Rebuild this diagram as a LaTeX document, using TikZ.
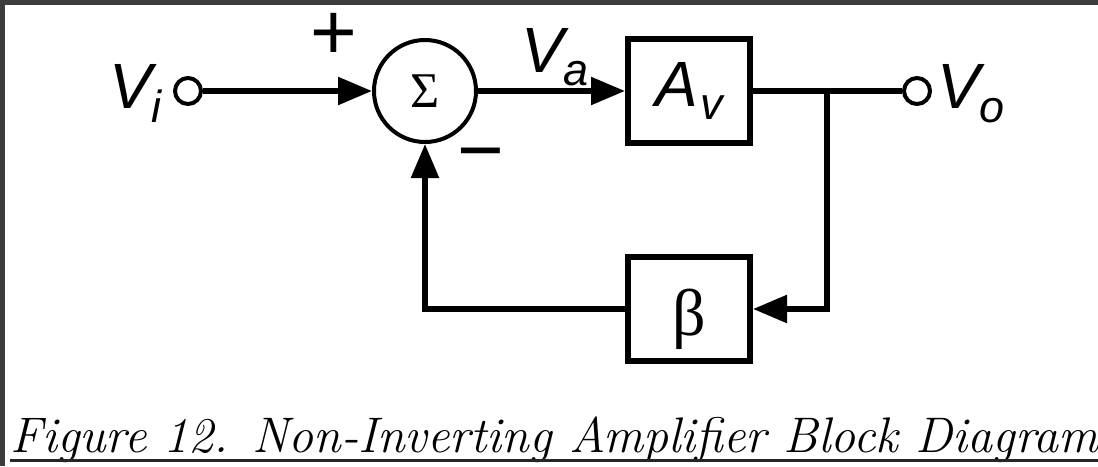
\documentclass[tikz,border=0pt]{standalone}
\usepackage{fontspec}
\newfontfamily\sansf{Liberation Sans}
\newfontfamily\seriff{Liberation Serif}
\usetikzlibrary{arrows.meta}
\definecolor{framegray}{HTML}{3C3C3C}
\begin{document}
\begin{tikzpicture}[x=1pt,y=-1pt,
  wire/.style={line width=5.5pt},
  arr/.style={wire,-{Triangle[length=34pt,width=27pt]}},
  block/.style={draw,line width=6pt,minimum width=122pt,minimum height=104pt,inner sep=0pt},
  sumnode/.style={draw,circle,line width=4pt,minimum size=102pt,inner sep=0pt,font=\seriff\fontsize{50}{50}\selectfont},
  term/.style={draw,circle,line width=4pt,minimum size=26pt,inner sep=0pt,fill=white},
  lbl/.style={inner sep=0pt,anchor=base west,font=\sansf\itshape\fontsize{64}{64}\selectfont},
  sign/.style={inner sep=0pt,font=\sansf\fontsize{80}{80}\selectfont},
  greek/.style={inner sep=0pt,anchor=base,font=\seriff\fontsize{66}{66}\selectfont},
]
% frame and background
\fill[framegray] (0,0) rectangle (1098,466);
\fill[white] (5,4.5) rectangle (1098,466);
\useasboundingbox (0,0) rectangle (1098,466);

% nodes
\node[term] (vi) at (188,91) {};
\node[sumnode] (sum) at (425,91) {Σ};
\node[block,font=\sansf\itshape\fontsize{64}{64}\selectfont] (av) at (689,91) {A\kern2pt\raisebox{-13pt}{\fontsize{45}{45}\selectfont v}};
\node[term] (vo) at (917,91) {};
\node[block] (beta) at (689,309) {};
\node[greek] (betalbl) at (689,335) {β};
\coordinate (j) at (827,91);

% labels
\node[lbl] (vilbl) at (109,108) {V\raisebox{-14pt}{\fontsize{45}{45}\selectfont i}};
\node[lbl] (valbl) at (521,72) {V\raisebox{-13pt}{\fontsize{45}{45}\selectfont a}};
\node[lbl] (volbl) at (937,108) {V\raisebox{-14pt}{\fontsize{45}{45}\selectfont o}};
\node[sign] (plus) at (334,36) {+};
\node[sign] (minus) at (481,163) {−};

% connectors
\draw[arr] (vi) -- (sum);
\draw[arr] (sum) -- (av);
\draw[wire] (av) -- (vo);
\draw[arr] (j) |- (beta);
\draw[arr] (beta) -| (sum);

% caption
\node[anchor=base west,inner sep=0pt,font=\fontsize{50}{60}\selectfont\itshape] (cap) at (10,452)
  {Figure 12. Non-Inverting Amplifier Block Diagram};
\draw[line width=2.5pt,black!85] (10,460.5) -- ([yshift=-8.5pt]cap.base east);
\end{tikzpicture}
\end{document}
